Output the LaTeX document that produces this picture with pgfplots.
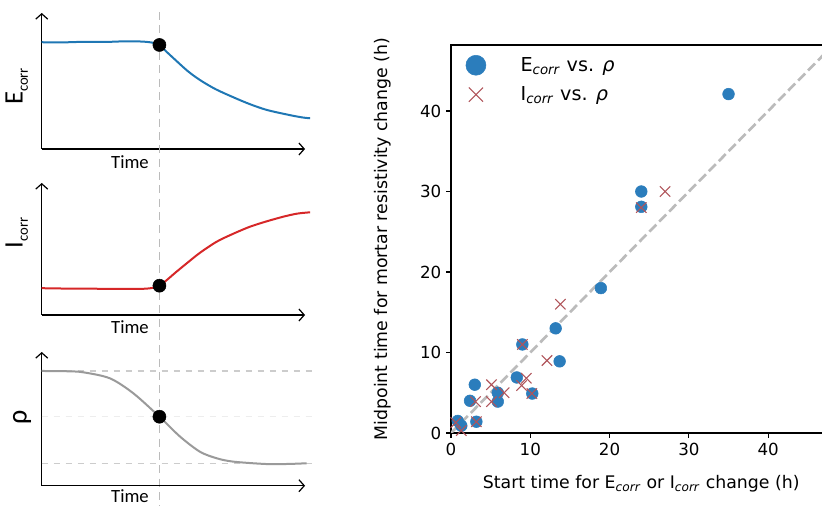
\documentclass[border=0pt]{standalone}
\usepackage{fontspec}
\setmainfont{DejaVu Sans}
\newfontfamily\carlito{Carlito}
\usepackage{pgfplots}
\pgfplotsset{compat=1.18}
\usetikzlibrary{arrows.meta}

\definecolor{cblue}{HTML}{2B7DBC}
\definecolor{cxred}{HTML}{B0545A}
\definecolor{eblue}{HTML}{1F77B4}
\definecolor{ired}{HTML}{D62728}
\definecolor{rgrey}{HTML}{9A9A9A}
\definecolor{vdash}{HTML}{BBBBBB}

\pgfplotsset{
  sketch/.style={
    scale only axis, clip=false,
    xmin=0, xmax=1, ymin=0, ymax=1,
    axis lines=left,
    axis line style={line width=1pt, -{Straight Barb[length=4pt,width=9pt,line width=0.9pt]}},
    xtick=\empty, ytick=\empty,
    width=197.5pt, anchor=south west,
  },
}
\tikzset{timelabel/.style={font=\carlito\fontsize{14}{16}\selectfont, anchor=base}}

\begin{document}
\begin{tikzpicture}
\useasboundingbox (0,0) rectangle (616.5pt,379.5pt);

% E_corr sketch
\begin{axis}[sketch, at={(31.3pt,267.75pt)}, height=102pt]
\addplot[vdash, line width=1.3pt, dash pattern=on 6pt off 4pt] coordinates {(0.447,1.007) (0.447,-2.63)};
\addplot[eblue, line width=1.5pt, smooth, tension=0.5] coordinates {
(0,0.785) (0.08,0.784) (0.16,0.788) (0.24,0.787) (0.32,0.792) (0.38,0.790) (0.42,0.782) (0.447,0.765)
(0.47,0.722) (0.513,0.645) (0.555,0.572) (0.601,0.507) (0.66,0.440) (0.728,0.380) (0.79,0.330)
(0.855,0.287) (0.94,0.250) (0.99,0.232) (1.019,0.226)};
\addplot[only marks, mark=*, black, mark size=4.9pt] coordinates {(0.447,0.765)};
\node[timelabel] at (axis cs:0.335,-0.14) {Time};
\node[rotate=90, anchor=center, font=\carlito] at (axis cs:-0.095,0.46)
  {\fontsize{20}{22}\selectfont E\raisebox{-4pt}{\fontsize{11}{12}\selectfont corr}};
\end{axis}

% I_corr sketch
\begin{axis}[sketch, at={(31.3pt,143.25pt)}, height=99pt]
\addplot[ired, line width=1.5pt, smooth, tension=0.5] coordinates {
(0,0.203) (0.1,0.200) (0.2,0.199) (0.3,0.197) (0.38,0.198) (0.42,0.205) (0.447,0.222)
(0.475,0.265) (0.51,0.325) (0.551,0.392) (0.60,0.470) (0.665,0.556) (0.73,0.618) (0.791,0.669)
(0.855,0.710) (0.918,0.745) (0.97,0.768) (1.019,0.778)};
\addplot[only marks, mark=*, black, mark size=4.9pt] coordinates {(0.447,0.222)};
\node[timelabel] at (axis cs:0.335,-0.139) {Time};
\node[rotate=90, anchor=center, font=\carlito] at (axis cs:-0.095,0.62)
  {\fontsize{20}{22}\selectfont I\raisebox{-4pt}{\fontsize{11}{12}\selectfont corr}};
\end{axis}

% rho sketch
\begin{axis}[sketch, at={(31.3pt,15.2pt)}, height=100.3pt]
\addplot[black!20, line width=0.8pt, dash pattern=on 5pt off 4pt] coordinates {(0,0.858) (1.038,0.858)};
\addplot[black!20, line width=0.8pt, dash pattern=on 5pt off 4pt] coordinates {(0,0.168) (1.038,0.168)};
\addplot[black!7, line width=0.8pt, dash pattern=on 5pt off 4pt] coordinates {(0,0.516) (1.038,0.516)};
\addplot[rgrey, line width=1.5pt, smooth, tension=0.5] coordinates {
(0,0.858) (0.095,0.856) (0.158,0.848) (0.259,0.803) (0.348,0.691) (0.447,0.516) (0.526,0.366)
(0.601,0.254) (0.665,0.205) (0.728,0.180) (0.855,0.162) (0.94,0.163) (1.006,0.168)};
\addplot[only marks, mark=*, black, mark size=4.9pt] coordinates {(0.447,0.516)};
\node[timelabel] at (axis cs:0.335,-0.128) {Time};
\node[rotate=90, anchor=center, font=\carlito\fontsize{21}{23}\selectfont] at (axis cs:-0.075,0.514) {ρ};
\end{axis}

% scatter
\begin{axis}[
  at={(338.25pt,54.75pt)}, anchor=south west, scale only axis,
  width=279.75pt, height=291pt,
  xmin=0, xmax=47.04, ymin=0, ymax=48.2,
  xtick={0,10,20,30,40}, ytick={0,10,20,30,40},
  tick pos=left, tick align=outside, major tick length=3.75pt,
  axis line style={line width=0.9pt}, tick style={line width=0.9pt, black},
  tick label style={font=\fontsize{12.5}{14}\selectfont},
  /pgf/number format/assume math mode=true,
  xlabel={Start time for E\textsubscript{\textit{corr}} or I\textsubscript{\textit{corr}} change (h)},
  ylabel={Midpoint time for mortar resistivity change (h)},
  xlabel style={font=\fontsize{13}{15}\selectfont, at={(axis description cs:0.51,-0.144)}, anchor=base},
  ylabel style={font=\fontsize{13}{15}\selectfont, at={(axis description cs:-0.184,0.5)}, anchor=center},
  clip mode=individual,
  legend style={draw=none, fill=none, at={(axis description cs:0,1)}, anchor=north west,
    font=\fontsize{14.4}{17}\selectfont, row sep=6pt, column sep=24pt, xshift=8pt, yshift=-5pt},
  legend cell align=left,
  legend image code/.code={\draw[#1, mark size=7.5pt] plot coordinates {(0pt,0pt)};},
]
\addplot[vdash, line width=2pt, dash pattern=on 7.4pt off 3.2pt, forget plot] coordinates {(0,0) (50,50)};
\addplot[only marks, mark=*, color=cblue, mark size=4.4pt] coordinates {
(0.85,1.5) (1.3,0.9) (2.4,4.0) (3.0,6.0) (3.2,1.4) (5.9,5.0) (5.9,3.9) (8.3,6.9)
(10.25,4.9) (9.0,11.0) (13.7,8.9) (13.2,13.0) (18.9,18.0) (24.0,30.0) (24.0,28.1) (35.0,42.1)};
\addlegendentry{E\textsubscript{\textit{corr}} vs. \textit{ρ}}
\addplot[only marks, mark=x, color=cxred, mark size=5.5pt, line width=0.8pt] coordinates {
(0.6,1.3) (1.3,0.3) (3.2,1.4) (3.1,3.9) (5.1,3.9) (5.1,6.0) (6.7,5.0) (8.9,5.9) (9.5,6.8)
(10.2,4.9) (12.1,9.0) (9.0,11.0) (13.8,16.0) (24.0,28.0) (27.0,30.0)};
\addlegendentry{I\textsubscript{\textit{corr}} vs. \textit{ρ}}
\end{axis}
\end{tikzpicture}
\end{document}
